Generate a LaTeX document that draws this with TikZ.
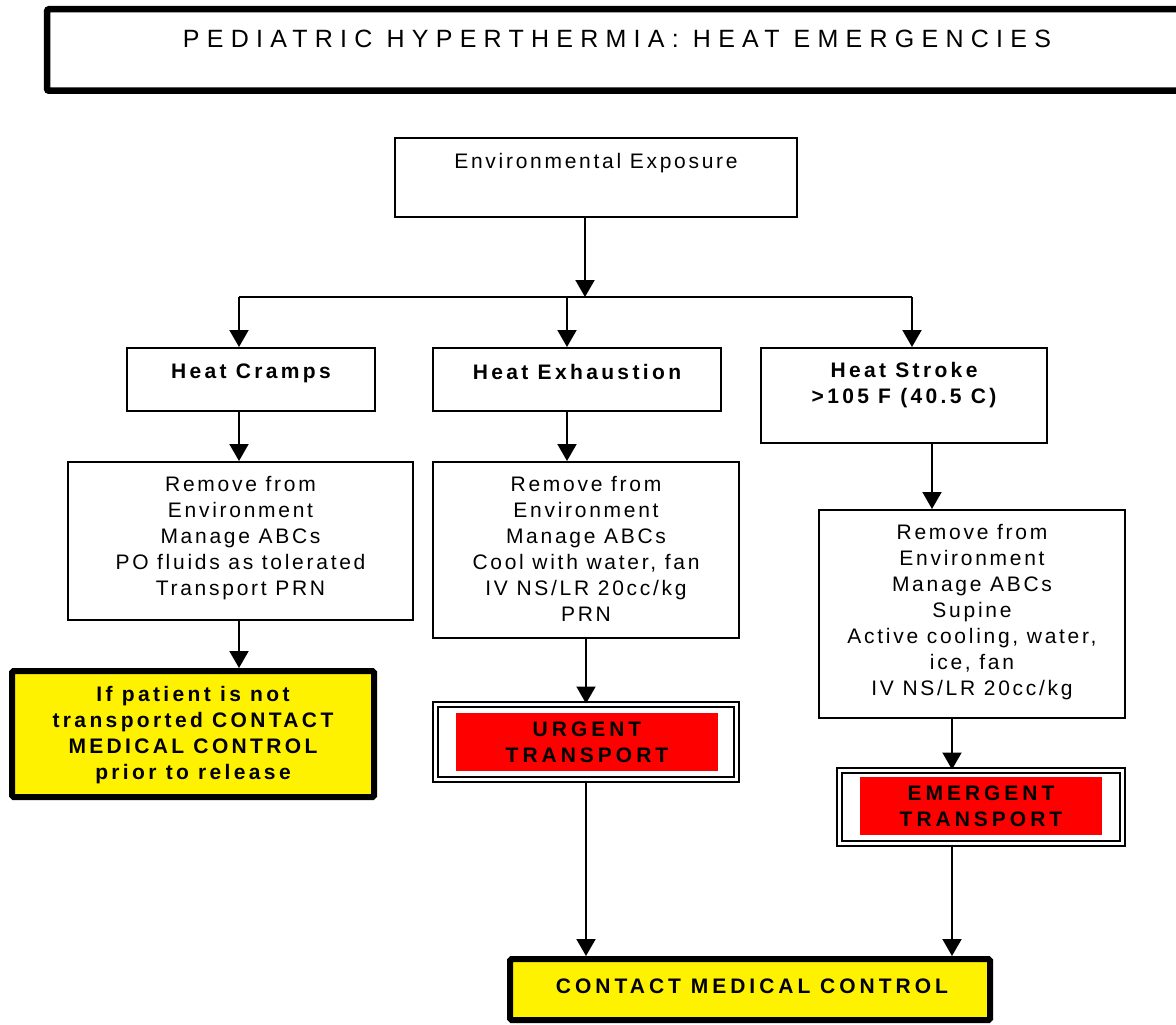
\documentclass[tikz,border=0pt]{standalone}
\usepackage{fontspec}
\usetikzlibrary{arrows.meta}
\newfontfamily\bodyfont{Liberation Sans}[LetterSpace=13]
\newfontfamily\headfont{Liberation Sans}[LetterSpace=16]
\newfontfamily\capsfont{Liberation Sans}[LetterSpace=19]
\newfontfamily\titlefont{Liberation Sans}[LetterSpace=29]

\begin{document}
\begin{tikzpicture}[x=1pt,y=-1pt,
  stepbox/.style={draw, line width=2pt, inner sep=0pt},
  heavybox/.style={draw, line width=6pt, inner sep=0pt, rounded corners=1.5pt, fill=yellow},
  framebox/.style={draw, line width=2pt, double=white, double distance=3pt, inner sep=0pt},
  redbar/.style={fill=red, inner sep=0pt, align=center,
    font=\capsfont\bfseries\fontsize{21}{26}\selectfont},
  txt/.style={inner sep=0pt, align=center, anchor=north,
    font=\bodyfont\fontsize{21}{26}\selectfont},
  btxt/.style={txt, font=\headfont\bfseries\fontsize{21}{26}\selectfont},
  link/.style={line width=2pt},
  arr/.style={line width=2pt, -{Triangle[length=17pt,width=19pt]}}]

\useasboundingbox (0,0) rectangle (1176,1025);
\clip (0,0) rectangle (1176,1025);

% title banner (runs off the right edge)
\node[draw, line width=6.5pt, rounded corners=2pt, inner sep=0pt,
      minimum width=1153pt, minimum height=81.5pt] (title) at (623.6,50) {};
\node[inner sep=0pt, anchor=north, font=\titlefont\fontsize{25}{30}\selectfont]
      (titleT) at (617,29.5) {PEDIATRIC HYPERTHERMIA: HEAT EMERGENCIES};

% top box
\node[stepbox, minimum width=402pt, minimum height=79pt] (env) at (596,177.5) {};
\node[txt] (envT) at (596,153) {Environmental Exposure};

% branch points
\coordinate (jc) at (585,297);
\coordinate (jl) at (239,297);
\coordinate (jm) at (567,297);
\coordinate (jr) at (912,297);

% the three kinds of heat emergency
\node[stepbox, minimum width=248pt, minimum height=63pt] (hc) at (251,379.5) {};
\node[btxt] (hcT) at (251,364) {Heat Cramps};
\node[stepbox, minimum width=288pt, minimum height=63pt] (he) at (577,379.5) {};
\node[btxt] (heT) at (577,364) {Heat Exhaustion};
\node[stepbox, minimum width=286pt, minimum height=95pt] (hs) at (904,395.5) {};
\node[btxt] (hsT) at (904,362) {Heat Stroke\\>105 F (40.5 C)};

% treatment boxes
\node[stepbox, minimum width=345pt, minimum height=158pt] (hca) at (240.5,541) {};
\node[txt] (hcaT) at (240.5,476) {Remove from\\Environment\\Manage ABCs\\PO fluids as tolerated\\Transport PRN};
\node[stepbox, minimum width=306pt, minimum height=176pt] (hea) at (586,550) {};
\node[txt] (heaT) at (586,476) {Remove from\\Environment\\Manage ABCs\\Cool with water, fan\\IV NS/LR 20cc/kg\\PRN};
\node[stepbox, minimum width=306pt, minimum height=208pt] (hsa) at (972,614) {};
\node[txt] (hsaT) at (972,524) {Remove from\\Environment\\Manage ABCs\\Supine\\Active cooling, water,\\ice, fan\\IV NS/LR 20cc/kg};

% outcomes
\node[heavybox, minimum width=362pt, minimum height=126pt] (ybox) at (193,734) {};
\node[btxt] (yboxT) at (193,686) {If patient is not\\transported CONTACT\\MEDICAL CONTROL\\prior to release};

\node[framebox, minimum width=301pt, minimum height=75pt] (urg) at (586,742) {};
\node[redbar, minimum width=262pt, minimum height=58pt] (urgT) at (587,742) {URGENT\\TRANSPORT};

\node[framebox, minimum width=283pt, minimum height=73pt] (emg) at (981,807) {};
\node[redbar, minimum width=242pt, minimum height=58pt] (emgT) at (981,806) {EMERGENT\\TRANSPORT};

\node[heavybox, minimum width=480pt, minimum height=61pt] (cmc) at (750,989.5) {};
\node[inner sep=0pt, font=\capsfont\bfseries\fontsize{21}{26}\selectfont]
      (cmcT) at (752,986) {CONTACT MEDICAL CONTROL};

% connectors
\draw[arr] (jc |- env.south) -- (jc);
\draw[link] (jl) -- (jr);
\draw[arr] (jl) -- (jl |- hc.north);
\draw[arr] (jm) -- (jm |- he.north);
\draw[arr] (jr) -- (jr |- hs.north);

\draw[arr] (jl |- hc.south) -- (jl |- hca.north);
\draw[arr] (jm |- he.south) -- (jm |- hea.north);
\coordinate (hsx) at (932,444);
\draw[arr] (hsx |- hs.south) -- (hsx |- hsa.north);

\draw[arr] (jl |- hca.south) -- (jl |- ybox.north);
\draw[arr] (hea.south) -- (urg.north);
\coordinate (emx) at (952,719);
\draw[arr] (emx |- hsa.south) -- (emx |- emg.north);

\draw[arr] (urg.south) -- (urg.south |- cmc.north);
\draw[arr] (emx |- emg.south) -- (emx |- cmc.north);
\end{tikzpicture}
\end{document}
